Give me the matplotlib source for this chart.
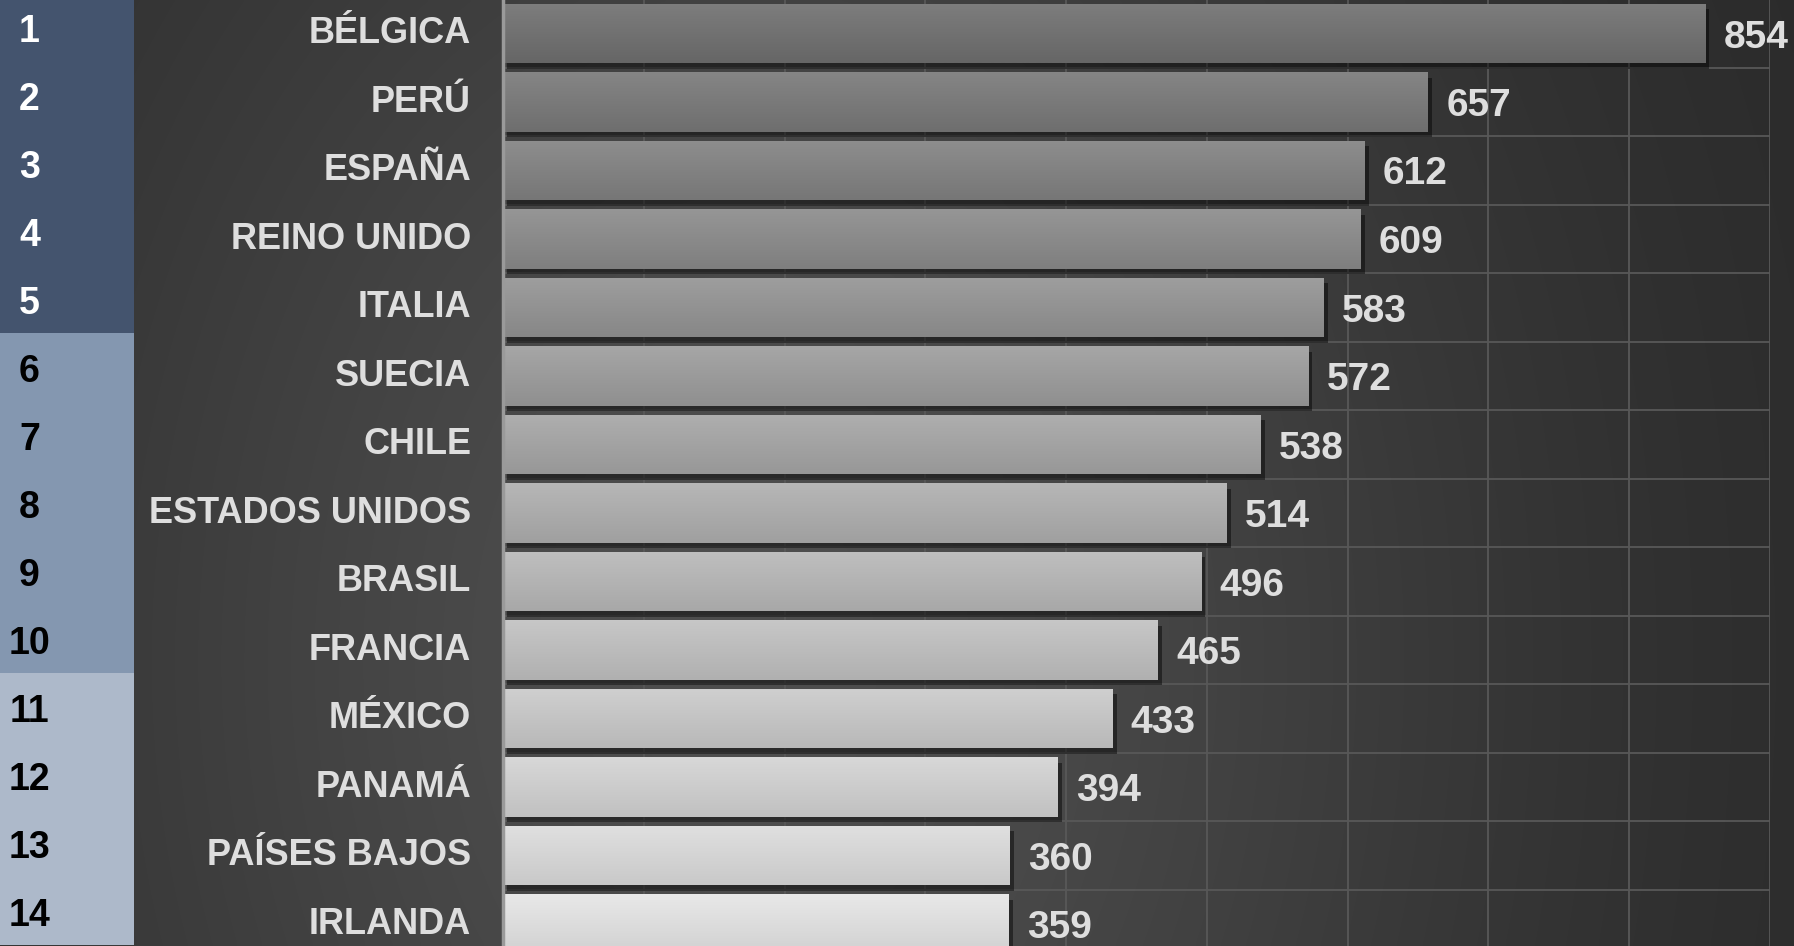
#!/usr/bin/env python3

import numpy as np
import matplotlib
matplotlib.use('Agg')
import matplotlib.pyplot as plt
import matplotlib.patheffects as pe

# data
ranks = list(range(1, 15))
countries = ['BÉLGICA', 'PERÚ', 'ESPAÑA', 'REINO UNIDO', 'ITALIA', 'SUECIA', 'CHILE',
             'ESTADOS UNIDOS', 'BRASIL', 'FRANCIA', 'MÉXICO', 'PANAMÁ', 'PAÍSES BAJOS', 'IRLANDA']
values = [854, 657, 612, 609, 583, 572, 538, 514, 496, 465, 433, 394, 360, 359]
x_ticks = list(range(0, 1000, 100))

fam = ['Liberation Sans', 'DejaVu Sans']
label_col = '#dedede'

W, H, DPI = 1794, 946, 100
fig = plt.figure(figsize=(W / DPI, H / DPI), dpi=DPI)

# background gradient
bg = fig.add_axes([0, 0, 1, 1], zorder=-10)
gx, gy = np.meshgrid(np.linspace(0, 1, 400), np.linspace(0, 1, 220))
glow = np.exp(-((gx - 0.42) / 0.42) ** 2 - ((gy - 0.7) / 1.1) ** 2)
shade = (40 + 38 * glow) / 255.0
bg.imshow(np.dstack([shade, shade, shade]), aspect='auto', extent=(0, 1, 0, 1),
          interpolation='bilinear')
bg.set_axis_off()

# geometry (pixels): first bar centre at 33.5, pitch 68.5
pitch, first = 68.5, 33.5
y_top = -first / pitch
y_bot = (H - first) / pitch
ypos = np.arange(len(values))

ax = fig.add_axes([503 / W, 0, (1770 - 503) / W, 1])
ax.set_facecolor('none')

n = len(values)
greys = [0.45 + 0.42 * i / (n - 1) for i in range(n)]
bar_h = 0.87
bars = ax.barh(ypos, values, height=bar_h, color=[(g, g, g) for g in greys],
               zorder=3, edgecolor='none')
for b, g in zip(bars, greys):
    b.set_path_effects([pe.SimplePatchShadow(offset=(3, -4), shadow_rgbFace='black', alpha=0.45),
                        pe.Normal()])
    grad = np.repeat(np.linspace(g + 0.04, g - 0.05, 50).clip(0, 1)[:, None], 2, axis=1)
    img = np.dstack([grad, grad, grad])
    x0, w = b.get_x(), b.get_width()
    yc = b.get_y() + b.get_height() / 2
    im = ax.imshow(img, aspect='auto', extent=(x0, x0 + w, yc + bar_h / 2, yc - bar_h / 2),
                   zorder=4, interpolation='bilinear')
    im.set_clip_path(b)

for yv, v in zip(ypos, values):
    ax.text(v + 13, yv, str(v), va='center_baseline', ha='left', fontsize=28, fontweight='bold',
            color=label_col, family=fam, zorder=5)

ax.set_xticks(x_ticks)
ax.set_yticks(ypos)
ax.set_yticklabels(countries, fontsize=26, fontweight='bold', color=label_col, family=fam)
for lab in ax.get_yticklabels():
    lab.set_va('center')
ax.set_yticks(np.arange(-0.5, n + 0.5, 1), minor=True)
ax.set_xlim(0, 900)
ax.set_ylim(y_bot, y_top)
ax.tick_params(axis='y', which='both', length=0, pad=23)
ax.tick_params(axis='x', length=0, labelbottom=False)
ax.grid(axis='x', color='#585858', lw=1.3, zorder=0)
ax.grid(axis='y', which='minor', color='#585858', lw=1.3, zorder=0)
ax.set_axisbelow(True)
for s in ['top', 'right', 'bottom']:
    ax.spines[s].set_visible(False)
ax.spines['left'].set_color('#9a9a9a')
ax.spines['left'].set_linewidth(2.5)
ax.spines['left'].set_zorder(6)

# rank column (own row pitch: 68 px, first cell centre at 27 px)
rk = fig.add_axes([0, 0, 134 / W, 1])
rank_cols = ['#44546e'] * 5 + ['#8497b0'] * 5 + ['#adb9ca'] * 4
rk.barh(ypos, [1] * n, height=1.0, color=rank_cols, edgecolor='none')
for yv, r in zip(ypos, ranks):
    rk.text(0.22, yv + 0.02, str(r), ha='center', va='center_baseline', fontsize=27,
            fontweight='bold', family=fam, color='white' if r <= 5 else 'black')
rk.set_xlim(0, 1)
rk.set_ylim((H - 27) / 68, -27 / 68)
rk.set_axis_off()

fig.savefig('out.png', dpi=DPI)
